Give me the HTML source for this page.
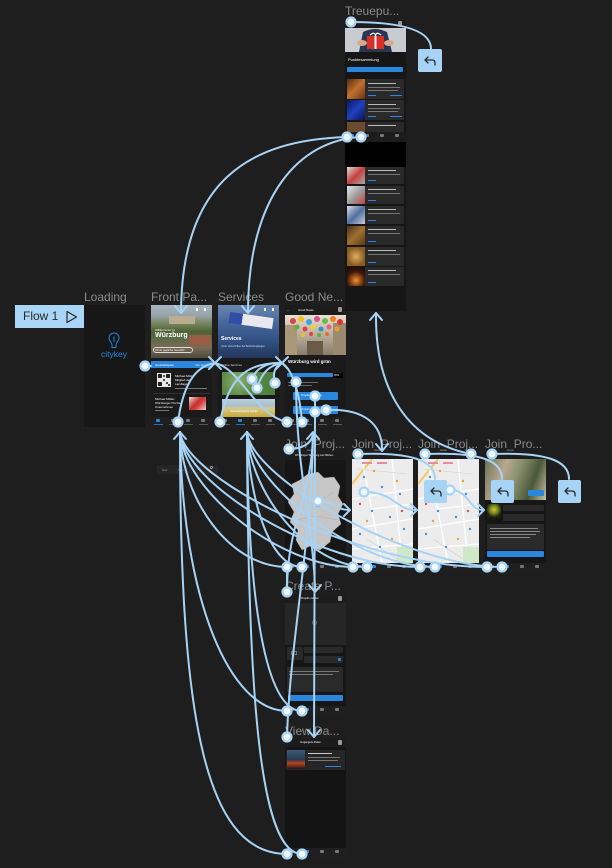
<!DOCTYPE html>
<html><head><meta charset="utf-8">
<style>
*{margin:0;padding:0;box-sizing:border-box}
html,body{width:612px;height:868px;background:#1e1e1e;overflow:hidden;font-family:"Liberation Sans","Noto Sans CJK SC",sans-serif}
.f{position:absolute;background:#161616;overflow:hidden}
.l{position:absolute;font-size:12px;color:#8c8c8c;white-space:nowrap;line-height:14px}
.a{position:absolute}
.nav{position:absolute;left:0;right:0;bottom:0;height:10px;background:#1f1f1f}
.nav i{position:absolute;top:2px;width:4px;height:3px;background:#777;border-radius:1px}
.nav b{position:absolute;top:7px;width:9px;height:1px;background:#555}
.t{position:absolute;font-size:3px;color:#cfcfcf;white-space:nowrap;line-height:4px}
.c{position:absolute;background:#2a2a2a;border-radius:1px}
.bl{position:absolute;background:#2b87de;border-radius:1px}
.tl{position:absolute;height:1px;background:#8a8a8a}
.hd{position:absolute;left:0;top:0;right:0;height:8px;background:#1c1c1c}
</style></head><body>

<!-- Flow 1 button -->
<div class="a" style="left:15px;top:305px;width:69px;height:23px;background:#a9d5f6"></div>
<div class="a" style="left:23px;top:309px;font-size:12px;line-height:14px;color:#2a2a2a;">Flow 1</div>
<svg class="a" style="left:65px;top:310px" width="14" height="14" viewBox="0 0 14 14"><path d="M2 1.5 L11.5 7 L2 12.5 Z" fill="none" stroke="#2a2a2a" stroke-width="1.2" stroke-linejoin="round"/></svg>

<!-- Labels -->
<div class="l" style="left:84px;top:290px">Loading</div>
<div class="l" style="left:151px;top:290px">Front Pa...</div>
<div class="l" style="left:218px;top:290px">Services</div>
<div class="l" style="left:285px;top:290px">Good Ne...</div>
<div class="l" style="left:345px;top:4px">Treuepu...</div>
<div class="l" style="left:285px;top:437px">Join_Proj...</div>
<div class="l" style="left:352px;top:437px">Join_Proj...</div>
<div class="l" style="left:418px;top:437px">Join_Proj...</div>
<div class="l" style="left:485px;top:437px">Join_Pro...</div>
<div class="l" style="left:285px;top:579px">Create P...</div>
<div class="l" style="left:285px;top:724px">View Da...</div>

<!-- Loading -->
<div class="f" style="left:84px;top:305px;width:61px;height:122px;background:#171717">
 <svg class="a" style="left:24px;top:27px" width="12" height="17" viewBox="0 0 12 17"><path d="M6 1 C2.7 1 1 3.4 1 6 C1 9 4 10.5 4 13 L4 15.5 L8 15.5 L8 13 C8 10.5 11 9 11 6 C11 3.4 9.3 1 6 1Z" fill="none" stroke="#2185e0" stroke-width="1"/><path d="M6 4.5 V10" stroke="#2185e0" stroke-width="1"/></svg>
 <div class="a" style="left:17px;top:44px;font-size:8.5px;line-height:10px;color:#2185e0;">citykey</div>
</div>

<!-- Front Page -->
<div class="f" style="left:151px;top:305px;width:61px;height:122px;background:#1a1a1a">
 <div class="a" style="left:0;top:0;width:61px;height:53px;background:linear-gradient(180deg,#a9b6bf 0%,#95a3a8 20%,#74835a 36%,#4f6236 50%,#5c6a48 64%,#7a6a55 80%,#4e4a40 100%)"></div>
 <div class="a" style="left:18px;top:11px;width:26px;height:8px;background:#b8ad90"></div>
 <div class="a" style="left:38px;top:30px;width:22px;height:10px;background:#9a5c44"></div>
 <div class="a" style="left:45px;top:3px;width:2px;height:3px;background:#fff"></div>
 <div class="a" style="left:53px;top:3px;width:2px;height:3px;background:#fff"></div>
 <div class="t" style="left:4px;top:23px;color:#fff">Willkommen in</div>
 <div class="a" style="left:4px;top:27px;font-size:7px;line-height:8px;font-weight:bold;color:#fff">Würzburg</div>
 <div class="a" style="left:2px;top:42px;width:40px;height:6px;border:0.5px solid #ddd;border-radius:3px"></div>
 <div class="t" style="left:4px;top:43px;color:#fff">Ohne jegliche Gewähr</div>
 <div class="bl" style="left:0;top:56px;width:61px;height:7px;border-radius:0"></div>
 <div class="t" style="left:4px;top:57.5px;color:#fff">Haushaltsplan</div>
 <div class="t" style="left:44px;top:57.5px;color:#cfe4fa">Alle ans.</div>
 <svg class="a" style="left:6px;top:68px" width="14" height="14" viewBox="0 0 14 14"><rect width="14" height="14" fill="#e8e8e8"/><rect x="1" y="1" width="4" height="4" fill="#222"/><rect x="9" y="1" width="4" height="4" fill="#222"/><rect x="1" y="9" width="4" height="4" fill="#222"/><rect x="6" y="6" width="2" height="2" fill="#444"/><rect x="9" y="9" width="2" height="2" fill="#444"/><rect x="6" y="2" width="2" height="2" fill="#555"/><rect x="11" y="11" width="2" height="2" fill="#444"/></svg>
 <div class="t" style="left:24px;top:69px;color:#fff">Michael Müller</div>
 <div class="t" style="left:24px;top:73px;color:#fff">Mitglied des</div>
 <div class="t" style="left:24px;top:77px;color:#fff">Landtags...</div>
 <div class="tl" style="left:24px;top:83px;width:32px;background:#777"></div>
 <div class="a" style="left:2px;top:88px;width:57px;height:1px;background:#333"></div>
 <div class="t" style="left:4px;top:92px;color:#fff">Michael Müller:</div>
 <div class="t" style="left:4px;top:96px;color:#fff">Würzburger Puzzle</div>
 <div class="t" style="left:4px;top:100px;color:#fff">Unternehmen</div>
 <div class="tl" style="left:4px;top:105px;width:14px;background:#777"></div>
 <div class="a" style="left:38px;top:92px;width:17px;height:13px;background:linear-gradient(135deg,#e8e0d8 0%,#c83030 45%,#d84040 60%,#e0d8d0 100%)"></div>
 <div class="nav"><i style="left:5px;background:#2b87de"></i><i style="left:20px"></i><i style="left:35px"></i><i style="left:50px"></i><b style="left:3px;background:#2b6db0"></b><b style="left:18px"></b><b style="left:33px"></b><b style="left:48px"></b></div>
</div>

<!-- Services -->
<div class="f" style="left:218px;top:305px;width:61px;height:122px;background:#1a1a1a">
 <div class="a" style="left:0;top:0;width:61px;height:53px;background:linear-gradient(180deg,#6a86ae 0%,#46669a 35%,#2f4f80 70%,#23375c 100%)"></div>
 <div class="a" style="left:11px;top:10px;width:44px;height:11px;background:linear-gradient(90deg,#3050a8 0 30%,#e8e8ee 30% 100%);transform:rotate(8deg)"></div>
 <div class="a" style="left:46px;top:3px;width:2px;height:3px;background:#fff"></div>
 <div class="a" style="left:54px;top:3px;width:2px;height:3px;background:#fff"></div>
 <div class="a" style="left:3px;top:31px;font-size:5px;line-height:6px;font-weight:bold;color:#fff">Services</div>
 <div class="t" style="left:3px;top:40px;font-size:2.5px;color:#dde">Unter Vorschriften bei Behördengängen</div>
 <div class="t" style="left:3px;top:58px;color:#ddd">Online Services</div>
 <div class="a" style="left:4px;top:67px;width:53px;height:23px;background:radial-gradient(circle at 30% 40%,#8fb070 0,#5d8a48 40%,#4a7a3a 100%)"></div>
 <div class="a" style="left:4px;top:94px;width:53px;height:18px;background:linear-gradient(180deg,#b8d0e0 0%,#a8c0c8 35%,#d8c888 55%,#c9a838 100%)"></div>
 <div class="t" style="left:12px;top:105px;font-size:2.5px;color:#fff">Unterstützung für Schule</div>
 <div class="nav"><i style="left:5px"></i><i style="left:20px;background:#2b87de"></i><i style="left:35px"></i><i style="left:50px"></i><b style="left:3px"></b><b style="left:18px;background:#2b6db0"></b><b style="left:33px"></b><b style="left:48px"></b></div>
</div>

<!-- Good News -->
<div class="f" style="left:285px;top:305px;width:61px;height:122px;background:#1a1a1a">
 <div class="hd" style="height:10px"></div>
 <div class="t" style="left:2px;top:3px;color:#ddd">←</div>
 <div class="t" style="left:13px;top:3px;color:#fff">Good News</div>
 <div class="a" style="left:53px;top:2px;width:4px;height:5px;background:#999;border-radius:1px"></div>
 <svg class="a" style="left:0;top:10px" width="61" height="40" viewBox="0 0 61 40">
  <defs><linearGradient id="gn" x1="0" y1="0" x2="0" y2="1"><stop offset="0" stop-color="#e8e0d0"/><stop offset="1" stop-color="#8a7c6a"/></linearGradient></defs>
  <rect width="61" height="40" fill="url(#gn)"/>
  <rect x="0" y="10" width="12" height="30" fill="#a89878"/><rect x="48" y="8" width="13" height="32" fill="#9a8a70"/>
  <rect x="22" y="26" width="16" height="14" fill="#6a5a4a"/>
  <g>
   <circle cx="8" cy="6" r="3" fill="#e04040"/><circle cx="16" cy="4" r="3" fill="#f0c020"/><circle cx="24" cy="7" r="3" fill="#40a0e0"/><circle cx="32" cy="4" r="3" fill="#e05090"/><circle cx="40" cy="6" r="3" fill="#60c040"/><circle cx="48" cy="4" r="3" fill="#f08020"/><circle cx="55" cy="7" r="3" fill="#e03030"/>
   <circle cx="12" cy="12" r="2.5" fill="#60b040"/><circle cx="20" cy="14" r="2.5" fill="#e04040"/><circle cx="28" cy="12" r="2.5" fill="#f0d030"/><circle cx="36" cy="14" r="2.5" fill="#3090d0"/><circle cx="44" cy="12" r="2.5" fill="#e06090"/><circle cx="52" cy="14" r="2.5" fill="#f0a020"/>
   <circle cx="18" cy="20" r="2" fill="#f0c020"/><circle cx="26" cy="19" r="2" fill="#e04040"/><circle cx="34" cy="20" r="2" fill="#60b040"/><circle cx="42" cy="19" r="2" fill="#e07030"/>
  </g>
 </svg>
 <div class="a" style="left:3px;top:54px;font-size:4.5px;line-height:6px;font-weight:bold;color:#fff">Würzburg wird grün</div>
 <div class="bl" style="left:2px;top:68px;width:46px;height:4px"></div>
 <div class="a" style="left:48px;top:68px;width:10px;height:5px;background:#000"></div>
 <div class="t" style="left:49px;top:68.5px;font-size:2.5px;color:#fff">65%</div>
 <div class="tl" style="left:3px;top:77px;width:30px;background:#666"></div>
 <div class="tl" style="left:3px;top:80px;width:24px;background:#666"></div>
 <div class="bl" style="left:8px;top:87px;width:45px;height:8px"></div>
 <div class="t" style="left:16px;top:89px;font-size:2.5px;color:#fff">Projekt anschauen</div>
 <div class="bl" style="left:8px;top:101px;width:45px;height:8px"></div>
 <div class="t" style="left:16px;top:103px;font-size:2.5px;color:#fff">Projekt erstellen</div>
 <div class="nav"><i style="left:5px"></i><i style="left:20px;background:#2b87de"></i><i style="left:35px"></i><i style="left:50px"></i><b style="left:3px"></b><b style="left:18px"></b><b style="left:33px"></b><b style="left:48px"></b></div>
</div>

<!-- Treuepunkte -->
<div class="f" style="left:345px;top:20px;width:61px;height:291px;background:#161616">
 <div class="hd"></div>
 <div class="a" style="left:53px;top:1px;width:4px;height:5px;background:#999;border-radius:1px"></div>
 <svg class="a" style="left:0;top:8px" width="61" height="24" viewBox="0 0 61 24">
  <rect width="61" height="24" fill="#c8ccd0"/>
  <path d="M14 24 L18 4 Q30 -2 42 4 L47 24 Z" fill="#2a3550"/>
  <ellipse cx="17" cy="15" rx="5" ry="3" fill="#d8a890"/><ellipse cx="44" cy="15" rx="5" ry="3" fill="#d8a890"/>
  <rect x="22" y="8" width="17" height="13" fill="#d83028"/>
  <rect x="29.5" y="8" width="2" height="13" fill="#f4f4f4"/><path d="M25 7 Q30 3 30.5 8 Q31 3 36 7" stroke="#fff" stroke-width="1.2" fill="none"/>
 </svg>
 <div class="a" style="left:3px;top:37px;font-size:4px;line-height:5px;color:#fff">Punktesammlung</div>
 <div class="bl" style="left:2px;top:47px;width:56px;height:5px"></div>
 <div class="c" style="left:2px;top:59px;width:57px;height:20px"></div>
 <div class="a" style="left:2px;top:59px;width:18px;height:20px;background:linear-gradient(135deg,#5a2a10,#c07030 50%,#6a3010)"></div>
 <div class="c" style="left:2px;top:80px;width:57px;height:20px"></div>
 <div class="a" style="left:2px;top:80px;width:18px;height:20px;background:linear-gradient(135deg,#081860,#2040c0 50%,#0a1450)"></div>
 <div class="c" style="left:2px;top:102px;width:57px;height:10px"></div>
 <div class="a" style="left:2px;top:102px;width:18px;height:10px;background:#6a4a30"></div>
 <div class="tl" style="left:23px;top:63px;width:28px;background:#bbb"></div><div class="tl" style="left:23px;top:67px;width:32px;background:#777"></div><div class="tl" style="left:23px;top:70px;width:30px;background:#777"></div><div class="tl" style="left:23px;top:75px;width:8px;background:#2b87de"></div><div class="tl" style="left:45px;top:75px;width:12px;background:#2b87de"></div>
 <div class="tl" style="left:23px;top:84px;width:28px;background:#bbb"></div><div class="tl" style="left:23px;top:88px;width:32px;background:#777"></div><div class="tl" style="left:23px;top:91px;width:30px;background:#777"></div><div class="tl" style="left:23px;top:96px;width:8px;background:#2b87de"></div><div class="tl" style="left:45px;top:96px;width:12px;background:#2b87de"></div>
 <div class="tl" style="left:23px;top:105px;width:28px;background:#bbb"></div>
 <div class="nav" style="top:112px;bottom:auto;background:#1c1c1c"><i style="left:5px;background:#2b87de"></i><i style="left:20px"></i><i style="left:35px"></i><i style="left:50px"></i></div>
 <div class="a" style="left:0;top:122px;width:61px;height:25px;background:#000"></div>
 <div class="c" style="left:2px;top:147px;width:57px;height:17px"></div><div class="a" style="left:2px;top:147px;width:18px;height:17px;background:linear-gradient(135deg,#ddd,#c84040 50%,#aaa)"></div>
 <div class="c" style="left:2px;top:166px;width:57px;height:18px"></div><div class="a" style="left:2px;top:166px;width:18px;height:18px;background:linear-gradient(135deg,#e8e8e8,#a0a0a0 50%,#c04040)"></div>
 <div class="c" style="left:2px;top:186px;width:57px;height:18px"></div><div class="a" style="left:2px;top:186px;width:18px;height:18px;background:linear-gradient(135deg,#dde,#5070a0 50%,#ccd)"></div>
 <div class="c" style="left:2px;top:206px;width:57px;height:19px"></div><div class="a" style="left:2px;top:206px;width:18px;height:19px;background:linear-gradient(135deg,#4a3018,#a07030 50%,#5a3a18)"></div>
 <div class="c" style="left:2px;top:227px;width:57px;height:19px"></div><div class="a" style="left:2px;top:227px;width:18px;height:19px;background:radial-gradient(circle,#e0b060,#8a5a20 70%)"></div>
 <div class="c" style="left:2px;top:247px;width:57px;height:19px"></div><div class="a" style="left:2px;top:247px;width:18px;height:19px;background:radial-gradient(circle at 50% 70%,#f09030,#401808 55%,#100808)"></div>
 <div class="tl" style="left:23px;top:150px;width:28px;background:#bbb"></div><div class="tl" style="left:23px;top:154px;width:32px;background:#777"></div><div class="tl" style="left:23px;top:160px;width:8px;background:#2b87de"></div>
 <div class="tl" style="left:23px;top:169px;width:28px;background:#bbb"></div><div class="tl" style="left:23px;top:173px;width:32px;background:#777"></div><div class="tl" style="left:23px;top:180px;width:8px;background:#2b87de"></div>
 <div class="tl" style="left:23px;top:189px;width:28px;background:#bbb"></div><div class="tl" style="left:23px;top:193px;width:32px;background:#777"></div><div class="tl" style="left:23px;top:200px;width:8px;background:#2b87de"></div>
 <div class="tl" style="left:23px;top:209px;width:28px;background:#bbb"></div><div class="tl" style="left:23px;top:213px;width:32px;background:#777"></div><div class="tl" style="left:23px;top:221px;width:8px;background:#2b87de"></div>
 <div class="tl" style="left:23px;top:230px;width:28px;background:#bbb"></div><div class="tl" style="left:23px;top:234px;width:32px;background:#777"></div><div class="tl" style="left:23px;top:242px;width:8px;background:#2b87de"></div>
 <div class="tl" style="left:23px;top:250px;width:28px;background:#bbb"></div><div class="tl" style="left:23px;top:254px;width:32px;background:#777"></div><div class="tl" style="left:23px;top:262px;width:8px;background:#2b87de"></div>
</div>

<!-- Join 1 -->
<div class="f" style="left:285px;top:452px;width:61px;height:121px;background:#161616">
 <div class="hd"></div>
 <div class="t" style="left:10px;top:2px;font-size:2.5px;color:#fff">Wir bringen Würzburg zum Blühen</div>
 <svg class="a" style="left:3px;top:20px" width="56" height="80" viewBox="0 0 56 80"><path d="M20 2 L30 0 L36 6 L46 5 L52 14 L50 24 L55 32 L50 42 L53 52 L44 60 L42 70 L32 78 L22 74 L14 78 L8 68 L10 58 L2 50 L6 40 L0 30 L6 22 L4 12 L12 8 Z" fill="#c6c6c6" stroke="#9a9a9a" stroke-width="0.4"/><path d="M10 20 L30 30 L46 20 M28 30 L26 60 M8 48 L28 44 L50 48" stroke="#aaa" stroke-width="0.4" fill="none"/><rect x="26" y="30" width="6" height="5" fill="#6aa0d8"/></svg>
 <div class="nav"><i style="left:5px"></i><i style="left:20px;background:#2b87de"></i><i style="left:35px"></i><i style="left:50px"></i></div>
</div>

<!-- Join 2 & 3 maps -->
<div class="f" style="left:352px;top:452px;width:61px;height:121px;background:#161616">
 <div class="hd"></div>
 <svg class="a" style="left:0;top:7px" width="61" height="104" viewBox="0 0 61 104">
  <rect width="61" height="104" fill="#ececec"/>
  <path d="M0 25 L20 0" stroke="#f5c860" stroke-width="2"/>
  <path d="M0 40 L61 30 M10 0 L30 104 M0 70 L61 60 M40 0 L50 104 M0 90 L61 85 M20 50 L61 45" stroke="#fff" stroke-width="1.3"/>
  <path d="M5 10 L55 15 M15 80 L45 100" stroke="#d8d8d8" stroke-width="0.8"/>
  <rect x="45" y="88" width="16" height="16" fill="#cfe8c8"/>
  <g fill="#4a8ee0"><circle cx="12" cy="18" r="1.2"/><circle cx="30" cy="28" r="1.2"/><circle cx="48" cy="35" r="1.2"/><circle cx="20" cy="52" r="1.2"/><circle cx="38" cy="58" r="1.2"/><circle cx="8" cy="75" r="1.2"/><circle cx="52" cy="70" r="1.2"/><circle cx="28" cy="88" r="1.2"/></g>
  <g fill="#f0a030"><circle cx="22" cy="12" r="1.2"/><circle cx="45" cy="22" r="1.2"/><circle cx="15" cy="62" r="1.2"/><circle cx="40" cy="80" r="1.2"/></g>
  <g fill="#e85050"><circle cx="8" cy="45" r="1.2"/><circle cx="50" cy="52" r="1.2"/></g>
  <rect x="10" y="3" width="10" height="2" fill="#e88aa0"/><rect x="25" y="3" width="10" height="2" fill="#e88aa0"/>
 </svg>
 <div class="nav"><i style="left:5px"></i><i style="left:20px;background:#2b87de"></i><i style="left:35px"></i><i style="left:50px"></i></div>
</div>
<div class="f" style="left:418px;top:452px;width:61px;height:121px;background:#161616">
 <div class="hd"></div>
 <svg class="a" style="left:0;top:7px" width="61" height="104" viewBox="0 0 61 104">
  <rect width="61" height="104" fill="#ececec"/>
  <path d="M0 25 L20 0" stroke="#f5c860" stroke-width="2"/>
  <path d="M0 40 L61 30 M10 0 L30 104 M0 70 L61 60 M40 0 L50 104 M0 90 L61 85 M20 50 L61 45" stroke="#fff" stroke-width="1.3"/>
  <path d="M5 10 L55 15 M15 80 L45 100" stroke="#d8d8d8" stroke-width="0.8"/>
  <rect x="45" y="88" width="16" height="16" fill="#cfe8c8"/>
  <g fill="#4a8ee0"><circle cx="12" cy="18" r="1.2"/><circle cx="30" cy="28" r="1.2"/><circle cx="48" cy="35" r="1.2"/><circle cx="20" cy="52" r="1.2"/><circle cx="38" cy="58" r="1.2"/><circle cx="8" cy="75" r="1.2"/><circle cx="52" cy="70" r="1.2"/><circle cx="28" cy="88" r="1.2"/></g>
  <g fill="#f0a030"><circle cx="22" cy="12" r="1.2"/><circle cx="45" cy="22" r="1.2"/><circle cx="15" cy="62" r="1.2"/><circle cx="40" cy="80" r="1.2"/></g>
  <g fill="#e85050"><circle cx="8" cy="45" r="1.2"/><circle cx="50" cy="52" r="1.2"/></g>
  <rect x="10" y="3" width="10" height="2" fill="#e88aa0"/><rect x="25" y="3" width="10" height="2" fill="#e88aa0"/>
 </svg>
 <div class="nav"><i style="left:5px"></i><i style="left:20px;background:#2b87de"></i><i style="left:35px"></i><i style="left:50px"></i></div>
</div>

<!-- Join 4 -->
<div class="f" style="left:485px;top:452px;width:61px;height:121px;background:#161616">
 <div class="hd"></div>
 <div class="a" style="left:0;top:7px;width:61px;height:41px;background:linear-gradient(110deg,#6a7458 0%,#b8a890 30%,#8a9070 50%,#4a5838 75%,#c8c0a8 100%)"></div>
 <div class="bl" style="left:43px;top:38px;width:16px;height:6px"></div>
 <div class="a" style="left:2px;top:52px;width:14px;height:14px;background:radial-gradient(circle at 50% 40%,#d8c830 0,#7a8a20 35%,#202010 70%)"></div>
 <div class="c" style="left:18px;top:53px;width:41px;height:6px"></div>
 <div class="c" style="left:18px;top:62px;width:41px;height:7px"></div>
 <div class="c" style="left:2px;top:72px;width:57px;height:26px"></div>
 <div class="tl" style="left:5px;top:76px;width:48px;background:#888"></div><div class="tl" style="left:5px;top:79px;width:50px;background:#888"></div><div class="tl" style="left:5px;top:82px;width:46px;background:#888"></div><div class="tl" style="left:5px;top:85px;width:40px;background:#888"></div>
 <div class="bl" style="left:2px;top:99px;width:57px;height:6px"></div>
 <div class="nav"><i style="left:5px"></i><i style="left:20px;background:#2b87de"></i><i style="left:35px"></i><i style="left:50px"></i></div>
</div>

<!-- stray nav -->
<div class="a" style="left:157px;top:465px;width:61px;height:9px;background:#262626"></div>
<div class="t" style="left:162px;top:469px;font-size:2.5px;color:#999">Start</div>
<div class="t" style="left:178px;top:469px;font-size:2.5px;color:#999">Servi</div>
<div class="a" style="left:210px;top:466px;width:3px;height:3px;border:0.5px solid #999;border-radius:50%"></div>

<!-- Create P -->
<div class="f" style="left:285px;top:595px;width:61px;height:121px;background:#161616">
 <div class="hd"></div>
 <div class="t" style="left:16px;top:2px;font-size:2.5px;color:#fff">Projekt erstellen</div>
 <div class="a" style="left:53px;top:1px;width:4px;height:5px;background:#999;border-radius:1px"></div>
 <div class="a" style="left:0;top:8px;width:61px;height:42px;background:#262626"></div>
 <div class="a" style="left:27px;top:25px;width:5px;height:5px;border:0.7px solid #666;border-radius:50%"></div>
 <div class="c" style="left:2px;top:52px;width:16px;height:13px"></div>
 <div class="a" style="left:6px;top:56px;width:6px;height:4px;border:0.6px solid #777"></div>
 <div class="c" style="left:19px;top:52px;width:39px;height:6px"></div>
 <div class="c" style="left:19px;top:61px;width:39px;height:7px"></div>
 <div class="bl" style="left:53px;top:63px;width:3px;height:3px"></div>
 <div class="c" style="left:2px;top:72px;width:56px;height:25px"></div>
 <div class="tl" style="left:4px;top:76px;width:50px;background:#777"></div><div class="tl" style="left:4px;top:79px;width:44px;background:#777"></div>
 <div class="bl" style="left:3px;top:100px;width:55px;height:6px"></div>
 <div class="nav"><i style="left:5px"></i><i style="left:20px;background:#2b87de"></i><i style="left:35px"></i><i style="left:50px"></i></div>
</div>

<!-- View Da -->
<div class="f" style="left:285px;top:738px;width:61px;height:120px;background:#141414">
 <div class="hd" style="height:9px"></div>
 <div class="t" style="left:15px;top:3px;font-size:2.5px;color:#fff">Vergangene Daten</div>
 <div class="a" style="left:53px;top:2px;width:4px;height:5px;background:#999;border-radius:1px"></div>
 <div class="c" style="left:1px;top:12px;width:59px;height:20px;background:#262626"></div>
 <div class="a" style="left:2px;top:12px;width:18px;height:19px;background:linear-gradient(180deg,#3a5a7a 0%,#2a3a50 50%,#c04020 70%,#1a1a20 100%)"></div>
 <div class="tl" style="left:23px;top:15px;width:24px;background:#ccc"></div><div class="tl" style="left:23px;top:19px;width:32px;background:#777"></div><div class="tl" style="left:23px;top:22px;width:30px;background:#777"></div><div class="tl" style="left:40px;top:28px;width:16px;background:#2b87de"></div>
 <div class="nav"><i style="left:5px"></i><i style="left:20px;background:#2b87de"></i><i style="left:35px"></i><i style="left:50px"></i></div>
</div>

<!-- Connectors -->
<svg class="a" style="left:0;top:0" width="612" height="868" viewBox="0 0 612 868" fill="none" stroke="#a7d3f5" stroke-width="2" stroke-linecap="round" stroke-linejoin="round">
 <!-- Treuepunkte -->
 <path d="M351 22 C395 22 431 28 431 49"/>
 <path d="M347 137 C250 140 182 180 181 312"/>
 <path d="M361 137 C300 140 248 195 248 312"/>
 <path d="M471 454 C400 440 375 380 376 313"/>
 <!-- fan to Front Page -->
 <path d="M287 567 C230 567 182 500 180 432"/>
 <path d="M353 567 C280 567 183 490 180 432"/>
 <path d="M420 567 C320 567 184 485 180 432"/>
 <path d="M487 567 C360 567 186 480 180 432"/>
 <path d="M287 711 C230 711 182 600 180 432"/>
 <path d="M287 854 C200 854 180 700 180 432"/>
 <!-- fan to Services -->
 <path d="M302 567 C270 567 249 500 247 432"/>
 <path d="M367 567 C310 567 250 495 247 432"/>
 <path d="M435 567 C360 567 251 488 247 432"/>
 <path d="M502 567 C410 567 252 480 247 432"/>
 <path d="M302 711 C265 711 248 600 247 432"/>
 <path d="M302 854 C260 854 248 700 247 432"/>
 <!-- to Good News -->
 <path d="M289 449 C300 449 312 445 313 433"/>
 <path d="M287 592 C287 520 312 500 313 433"/>
 <path d="M287 737 C290 640 312 540 313 433"/>
 <path d="M287 567 L287 592"/>
 <!-- Good News outgoing -->
 <path d="M296 382 C296 470 314 530 315 591"/>
 <path d="M315 396 L315 412"/>
 <path d="M315 412 C315 520 314 640 314 736"/>
 <path d="M326 410 C365 408 382 425 382 449"/>
 <!-- Join middle -->
 <path d="M318 501 C335 501 335 510 349 510"/>
 <path d="M364 492 C395 492 395 510 416 510"/>
 <path d="M450 490 C470 490 468 510 483 510"/>
 <!-- back boxes -->
 <path d="M358 454 C410 452 435 460 435 479"/>
 <path d="M425 454 C480 452 502 460 502 479"/>
 <path d="M492 454 C545 452 569 460 569 479"/>
 <!-- front/services interplay -->
 <path d="M178 422 C183 385 195 366 215 363"/>
 <path d="M215 363 C240 368 255 415 287 422"/>
 <path d="M220 422 C228 380 245 362 282 363"/>
 <path d="M252 379 C256 368 268 362 282 363"/>
 <path d="M257 388 C262 372 270 365 282 363"/>
 <path d="M275 383 C272 372 276 366 282 363"/>
 <path d="M282 363 C293 370 300 395 302 422"/>
 <path d="M145 366 L151 366"/>
 <!-- X marks -->
 <path d="M209 357 L221 369 M221 357 L209 369"/>
 <path d="M276 357 L288 369 M288 357 L276 369"/>
 <!-- arrowheads -->
 <polyline points="175,306 181,313 187,306"/>
 <polyline points="242,306 248,313 254,306"/>
 <polyline points="370,320 376,313 382,320"/>
 <polyline points="174,439 180,432 186,439"/>
 <polyline points="241,439 247,432 253,439"/>
 <polyline points="307,439 313,432 319,439"/>
 <polyline points="309,585 315,592 321,585"/>
 <polyline points="308,730 314,737 320,730"/>
 <polyline points="376,444 382,451 388,444"/>
 <polyline points="344,504 350,510 344,516"/>
 <polyline points="411,504 417,510 411,516"/>
 <polyline points="478,504 484,510 478,516"/>
 <!-- back boxes -->
 <g stroke="none" fill="#a7d3f5">
  <rect x="418" y="49" width="24" height="23" rx="2"/>
  <rect x="424" y="480" width="23" height="23" rx="2"/>
  <rect x="491" y="480" width="23" height="23" rx="2"/>
  <rect x="558" y="480" width="23" height="23" rx="2"/>
 </g>
 <g stroke="#2a2a2a" stroke-width="1.3">
  <path d="M428 57 L425 60 L428 63 M425 60 H432 Q435 60 435 63 V65"/>
  <path d="M434 488 L431 491 L434 494 M431 491 H438 Q441 491 441 494 V496"/>
  <path d="M501 488 L498 491 L501 494 M498 491 H505 Q508 491 508 494 V496"/>
  <path d="M568 488 L565 491 L568 494 M565 491 H572 Q575 491 575 494 V496"/>
 </g>
 <!-- dots -->
 <g fill="#f2f9ff" stroke="#a7d3f5" stroke-width="2.2">
  <circle cx="351" cy="22" r="4.5"/><circle cx="347" cy="137" r="4.5"/><circle cx="361" cy="137" r="4.5"/>
  <circle cx="145" cy="366" r="4.5"/><circle cx="178" cy="422" r="4.5"/><circle cx="220" cy="422" r="4.5"/>
  <circle cx="252" cy="379" r="4.5"/><circle cx="257" cy="388" r="4.5"/><circle cx="275" cy="383" r="4.5"/>
  <circle cx="287" cy="422" r="4.5"/><circle cx="302" cy="422" r="4.5"/><circle cx="296" cy="382" r="4.5"/>
  <circle cx="315" cy="396" r="4.5"/><circle cx="315" cy="412" r="4.5"/><circle cx="326" cy="410" r="4.5"/>
  <circle cx="289" cy="449" r="4.5"/><circle cx="318" cy="501" r="4.5"/><circle cx="287" cy="567" r="4.5"/><circle cx="302" cy="567" r="4.5"/>
  <circle cx="358" cy="454" r="4.5"/><circle cx="364" cy="492" r="4.5"/><circle cx="353" cy="567" r="4.5"/><circle cx="367" cy="567" r="4.5"/>
  <circle cx="425" cy="454" r="4.5"/><circle cx="471" cy="454" r="4.5"/><circle cx="450" cy="490" r="4.5"/><circle cx="420" cy="567" r="4.5"/><circle cx="435" cy="567" r="4.5"/>
  <circle cx="492" cy="454" r="4.5"/><circle cx="487" cy="567" r="4.5"/><circle cx="502" cy="567" r="4.5"/>
  <circle cx="287" cy="592" r="4.5"/><circle cx="287" cy="711" r="4.5"/><circle cx="302" cy="711" r="4.5"/>
  <circle cx="287" cy="737" r="4.5"/><circle cx="287" cy="854" r="4.5"/><circle cx="302" cy="854" r="4.5"/>
 </g>
</svg>
</body></html>
